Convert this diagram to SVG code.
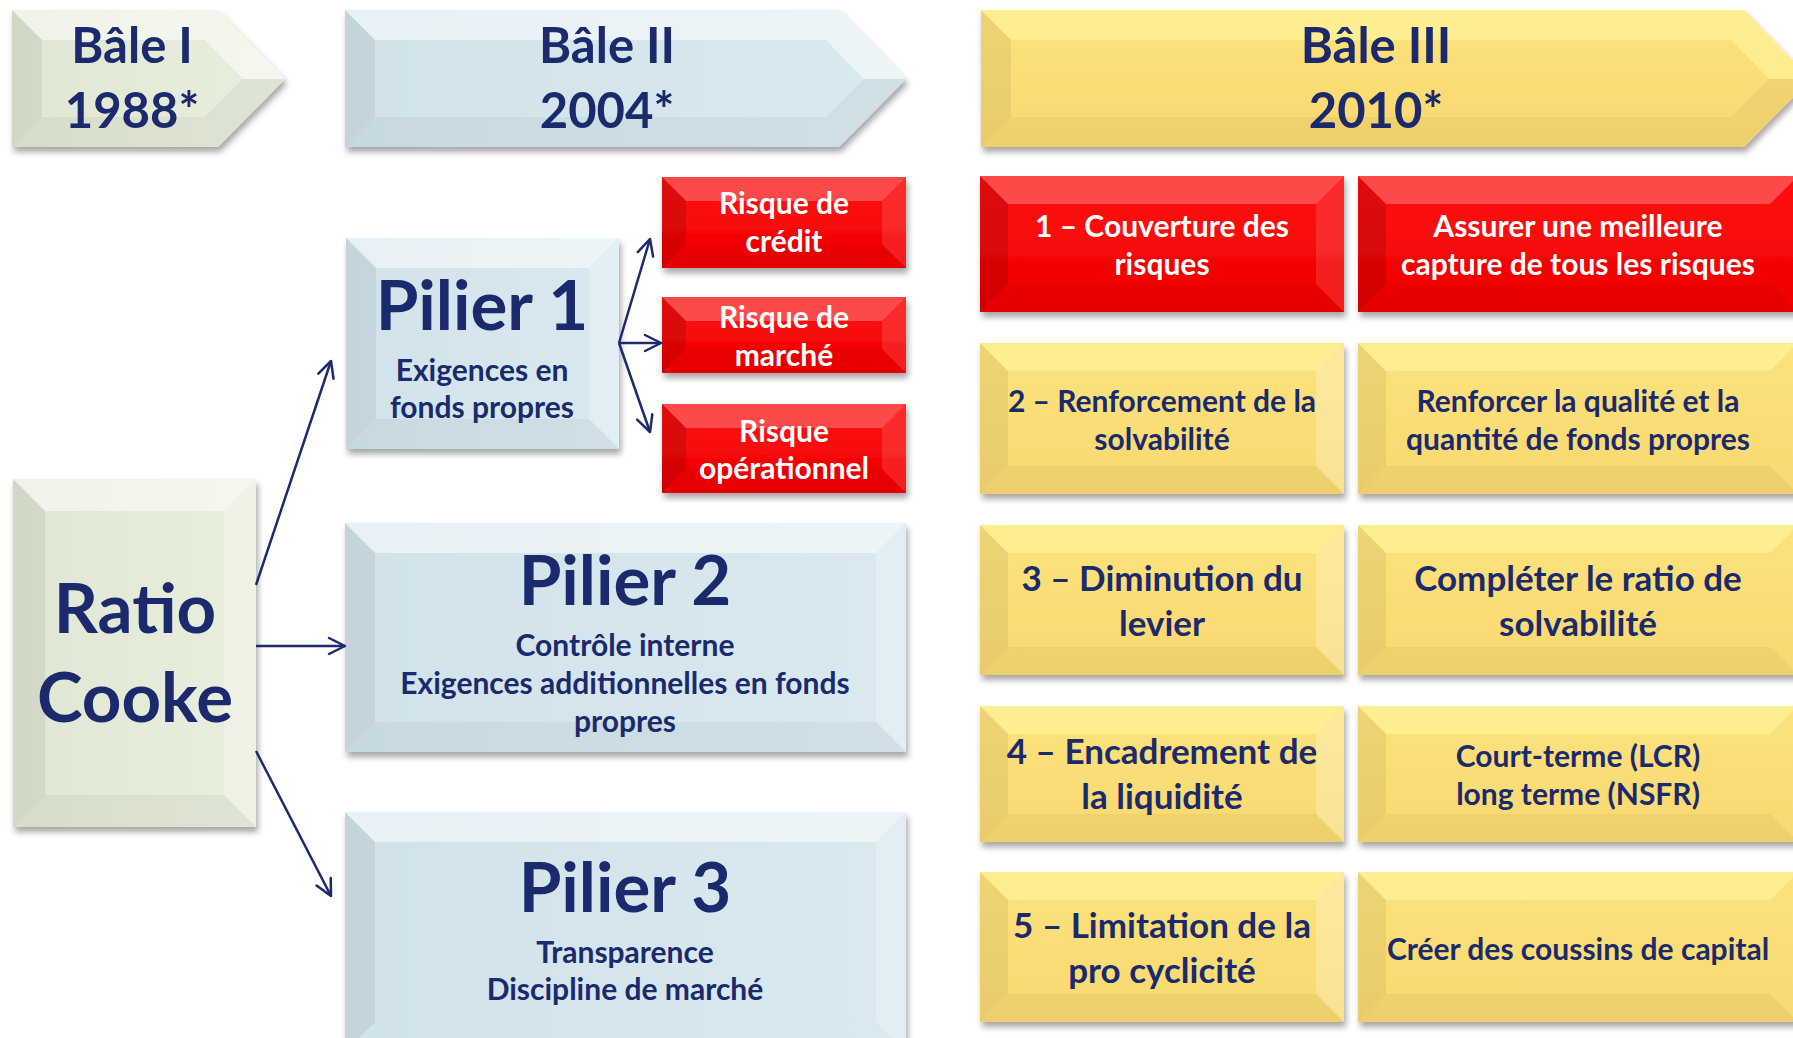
<svg xmlns="http://www.w3.org/2000/svg" width="1793" height="1038" viewBox="0 0 1793 1038">
<defs>
<filter id="sh" x="-10%" y="-10%" width="125%" height="130%">
<feDropShadow dx="2" dy="5" stdDeviation="3" flood-color="#000" flood-opacity="0.35"/>
</filter>
<linearGradient id="gGreen" x1="0" y1="0" x2="1" y2="0"><stop offset="0" stop-color="#DFE6D3"/><stop offset="1" stop-color="#E9EFDD"/></linearGradient>
<linearGradient id="gBlue" x1="0" y1="0" x2="1" y2="0"><stop offset="0" stop-color="#D0E2EA"/><stop offset="1" stop-color="#DAE9F0"/></linearGradient>
<linearGradient id="gRed" x1="0" y1="0" x2="0" y2="1"><stop offset="0" stop-color="#FF1010"/><stop offset="1" stop-color="#F00000"/></linearGradient>
<linearGradient id="gYel" x1="0" y1="0" x2="0" y2="1"><stop offset="0" stop-color="#FCE27C"/><stop offset="1" stop-color="#F9D870"/></linearGradient>
<marker id="ah" viewBox="0 0 20 20" refX="18" refY="10" markerWidth="20" markerHeight="20" markerUnits="userSpaceOnUse" orient="auto">
<path d="M2,2 L18,10 L2,18" fill="none" stroke="#1E2A6E" stroke-width="2.5" stroke-linecap="round" stroke-linejoin="round"/>
</marker>
</defs>
<style>
text{font-family:Lato,"Liberation Sans",sans-serif;font-weight:bold;fill:#1A2A6C;text-anchor:middle}
.w text, text.w{fill:#fff}
.green .base{fill:url(#gGreen)}
.blue .base{fill:url(#gBlue)}
.red .base{fill:url(#gRed)}
.yel .base{fill:url(#gYel)}
.bt{fill:#fff;opacity:.5}
.bl{fill:#000;opacity:.06}
.br{fill:#fff;opacity:.25}
.bb{fill:#000;opacity:.04}
.red .bt{opacity:.25}
.red .bl{opacity:.12}
.red .br{opacity:.12}
.yel .bt{fill:#FFF7A0;opacity:.6}
.yel .bl{opacity:.06}
.t1{font-size:49px}
.t2{font-size:69px}
.s1{font-size:30px}
.s2{font-size:30px}
.s3{font-size:35px}
.conn line{stroke:#1E2A6E;stroke-width:2.5;marker-end:url(#ah)}
</style>

<!-- Bâle I -->
<g id="bale1" class="green">
<g filter="url(#sh)"><polygon class="base" points="12,10 218,10 285,79 218,147 12,147"/></g>
<polygon class="bt" points="12,10 218,10 205,40 42,40"/>
<polygon class="bt" points="218,10 285,79 243,79 205,40"/>
<polygon class="bb" points="285,79 218,147 205,117 243,79"/>
<polygon class="bb" points="218,147 12,147 42,117 205,117"/>
<polygon class="bl" points="12,10 42,40 42,117 12,147"/>
<text class="t1" x="132" y="63">Bâle I</text>
<text class="t1" x="132" y="128">1988*</text>
</g>

<!-- Bâle II -->
<g id="bale2" class="blue">
<g filter="url(#sh)"><polygon class="base" points="345,10 839,10 906,79 839,147 345,147"/></g>
<polygon class="bt" points="345,10 839,10 826,40 375,40"/>
<polygon class="bt" points="839,10 906,79 864,79 826,40"/>
<polygon class="bb" points="906,79 839,147 826,117 864,79"/>
<polygon class="bb" points="839,147 345,147 375,117 826,117"/>
<polygon class="bl" points="345,10 375,40 375,117 345,147"/>
<text class="t1" x="607" y="63">Bâle II</text>
<text class="t1" x="607" y="128">2004*</text>
</g>

<!-- Bâle III -->
<g id="bale3" class="yel">
<g filter="url(#sh)"><polygon class="base" points="981,10 1744,10 1811,79 1744,147 981,147"/></g>
<polygon class="bt" points="981,10 1744,10 1731,40 1011,40"/>
<polygon class="bt" points="1744,10 1811,79 1769,79 1731,40"/>
<polygon class="bb" points="1811,79 1744,147 1731,117 1769,79"/>
<polygon class="bb" points="1744,147 981,147 1011,117 1731,117"/>
<polygon class="bl" points="981,10 1011,40 1011,117 981,147"/>
<text class="t1" x="1376" y="63">Bâle III</text>
<text class="t1" x="1376" y="128">2010*</text>
</g>

<!-- Ratio Cooke -->
<g id="ratio-cooke" class="green">
<rect class="base" x="13" y="479" width="243" height="348" filter="url(#sh)"/>
<polygon class="bt" points="13,479 256,479 224,511 45,511"/>
<polygon class="bl" points="13,479 45,511 45,795 13,827"/>
<polygon class="br" points="256,479 256,827 224,795 224,511"/>
<polygon class="bb" points="13,827 256,827 224,795 45,795"/>
<text class="t2" x="135" y="633">Ratio</text>
<text class="t2" x="135" y="722">Cooke</text>
</g>

<!-- Pilier 1 -->
<g id="pilier1" class="blue">
<rect class="base" x="346" y="238" width="273" height="211" filter="url(#sh)"/>
<polygon class="bt" points="346,238 619,238 589,268 376,268"/>
<polygon class="bl" points="346,238 376,268 376,419 346,449"/>
<polygon class="br" points="619,238 619,449 589,419 589,268"/>
<polygon class="bb" points="346,449 619,449 589,419 376,419"/>
<text class="t2" x="482" y="330">Pilier 1</text>
<text class="s1" x="482" y="381">Exigences en</text>
<text class="s1" x="482" y="418">fonds propres</text>
</g>

<!-- Pilier 2 -->
<g id="pilier2" class="blue">
<rect class="base" x="345" y="523" width="561" height="229" filter="url(#sh)"/>
<polygon class="bt" points="345,523 906,523 876,553 375,553"/>
<polygon class="bl" points="345,523 375,553 375,722 345,752"/>
<polygon class="br" points="906,523 906,752 876,722 876,553"/>
<polygon class="bb" points="345,752 906,752 876,722 375,722"/>
<text class="t2" x="625" y="605">Pilier 2</text>
<text class="s1" x="625" y="656">Contrôle interne</text>
<text class="s1" x="625" y="694">Exigences additionnelles en fonds</text>
<text class="s1" x="625" y="732">propres</text>
</g>

<!-- Pilier 3 -->
<g id="pilier3" class="blue">
<rect class="base" x="345" y="812" width="561" height="240" filter="url(#sh)"/>
<polygon class="bt" points="345,812 906,812 876,842 375,842"/>
<polygon class="bl" points="345,812 375,842 375,1022 345,1052"/>
<polygon class="br" points="906,812 906,1052 876,1022 876,842"/>
<text class="t2" x="625" y="912">Pilier 3</text>
<text class="s1" x="625" y="963">Transparence</text>
<text class="s1" x="625" y="1000">Discipline de marché</text>
</g>

<!-- Risques -->
<g id="risque-credit" class="red w">
<rect class="base" x="662" y="177" width="244" height="91" filter="url(#sh)"/>
<polygon class="bt" points="662,177 906,177 882,201 686,201"/>
<polygon class="bl" points="662,177 686,201 686,244 662,268"/>
<polygon class="br" points="906,177 906,268 882,244 882,201"/>
<polygon class="bb" points="662,268 906,268 882,244 686,244"/>
<text class="s1 w" x="784" y="214">Risque de</text>
<text class="s1 w" x="784" y="252">crédit</text>
</g>
<g id="risque-marche" class="red w">
<rect class="base" x="662" y="297" width="244" height="76" filter="url(#sh)"/>
<polygon class="bt" points="662,297 906,297 882,321 686,321"/>
<polygon class="bl" points="662,297 686,321 686,349 662,373"/>
<polygon class="br" points="906,297 906,373 882,349 882,321"/>
<polygon class="bb" points="662,373 906,373 882,349 686,349"/>
<text class="s1 w" x="784" y="328">Risque de</text>
<text class="s1 w" x="784" y="366">marché</text>
</g>
<g id="risque-operationnel" class="red w">
<rect class="base" x="662" y="404" width="244" height="89" filter="url(#sh)"/>
<polygon class="bt" points="662,404 906,404 882,428 686,428"/>
<polygon class="bl" points="662,404 686,428 686,469 662,493"/>
<polygon class="br" points="906,404 906,493 882,469 882,428"/>
<polygon class="bb" points="662,493 906,493 882,469 686,469"/>
<text class="s1 w" x="784" y="442">Risque</text>
<text class="s1 w" x="784" y="479">opérationnel</text>
</g>

<!-- Bâle III rows -->
<g id="row1-left" class="red w">
<rect class="base" x="980" y="176" width="364" height="136" filter="url(#sh)"/>
<polygon class="bt" points="980,176 1344,176 1316,204 1008,204"/>
<polygon class="bl" points="980,176 1008,204 1008,284 980,312"/>
<polygon class="br" points="1344,176 1344,312 1316,284 1316,204"/>
<polygon class="bb" points="980,312 1344,312 1316,284 1008,284"/>
<text class="s2 w" x="1162" y="237">1 – Couverture des</text>
<text class="s2 w" x="1162" y="275">risques</text>
</g>
<g id="row1-right" class="red w">
<rect class="base" x="1358" y="176" width="440" height="136" filter="url(#sh)"/>
<polygon class="bt" points="1358,176 1798,176 1770,204 1386,204"/>
<polygon class="bl" points="1358,176 1386,204 1386,284 1358,312"/>
<polygon class="bb" points="1358,312 1798,312 1770,284 1386,284"/>
<text class="s2 w" x="1578" y="237">Assurer une meilleure</text>
<text class="s2 w" x="1578" y="275">capture de tous les risques</text>
</g>

<g id="row2-left" class="yel">
<rect class="base" x="980" y="343" width="364" height="151" filter="url(#sh)"/>
<polygon class="bt" points="980,343 1344,343 1316,371 1008,371"/>
<polygon class="bl" points="980,343 1008,371 1008,466 980,494"/>
<polygon class="br" points="1344,343 1344,494 1316,466 1316,371"/>
<polygon class="bb" points="980,494 1344,494 1316,466 1008,466"/>
<text class="s2" x="1162" y="412">2 – Renforcement de la</text>
<text class="s2" x="1162" y="450">solvabilité</text>
</g>
<g id="row2-right" class="yel">
<rect class="base" x="1358" y="343" width="440" height="151" filter="url(#sh)"/>
<polygon class="bt" points="1358,343 1798,343 1770,371 1386,371"/>
<polygon class="bl" points="1358,343 1386,371 1386,466 1358,494"/>
<polygon class="bb" points="1358,494 1798,494 1770,466 1386,466"/>
<text class="s2" x="1578" y="412">Renforcer la qualité et la</text>
<text class="s2" x="1578" y="450">quantité de fonds propres</text>
</g>

<g id="row3-left" class="yel">
<rect class="base" x="980" y="525" width="364" height="150" filter="url(#sh)"/>
<polygon class="bt" points="980,525 1344,525 1316,553 1008,553"/>
<polygon class="bl" points="980,525 1008,553 1008,647 980,675"/>
<polygon class="br" points="1344,525 1344,675 1316,647 1316,553"/>
<polygon class="bb" points="980,675 1344,675 1316,647 1008,647"/>
<text class="s3" x="1162" y="591">3 – Diminution du</text>
<text class="s3" x="1162" y="636">levier</text>
</g>
<g id="row3-right" class="yel">
<rect class="base" x="1358" y="525" width="440" height="150" filter="url(#sh)"/>
<polygon class="bt" points="1358,525 1798,525 1770,553 1386,553"/>
<polygon class="bl" points="1358,525 1386,553 1386,647 1358,675"/>
<polygon class="bb" points="1358,675 1798,675 1770,647 1386,647"/>
<text class="s3" x="1578" y="591">Compléter le ratio de</text>
<text class="s3" x="1578" y="636">solvabilité</text>
</g>

<g id="row4-left" class="yel">
<rect class="base" x="980" y="706" width="364" height="136" filter="url(#sh)"/>
<polygon class="bt" points="980,706 1344,706 1316,734 1008,734"/>
<polygon class="bl" points="980,706 1008,734 1008,814 980,842"/>
<polygon class="br" points="1344,706 1344,842 1316,814 1316,734"/>
<polygon class="bb" points="980,842 1344,842 1316,814 1008,814"/>
<text class="s3" x="1162" y="764">4 – Encadrement de</text>
<text class="s3" x="1162" y="809">la liquidité</text>
</g>
<g id="row4-right" class="yel">
<rect class="base" x="1358" y="706" width="440" height="136" filter="url(#sh)"/>
<polygon class="bt" points="1358,706 1798,706 1770,734 1386,734"/>
<polygon class="bl" points="1358,706 1386,734 1386,814 1358,842"/>
<polygon class="bb" points="1358,842 1798,842 1770,814 1386,814"/>
<text class="s2" x="1578" y="767">Court-terme (LCR)</text>
<text class="s2" x="1578" y="805">long terme (NSFR)</text>
</g>

<g id="row5-left" class="yel">
<rect class="base" x="980" y="872" width="364" height="150" filter="url(#sh)"/>
<polygon class="bt" points="980,872 1344,872 1316,900 1008,900"/>
<polygon class="bl" points="980,872 1008,900 1008,994 980,1022"/>
<polygon class="br" points="1344,872 1344,1022 1316,994 1316,900"/>
<polygon class="bb" points="980,1022 1344,1022 1316,994 1008,994"/>
<text class="s3" x="1162" y="938">5 – Limitation de la</text>
<text class="s3" x="1162" y="983">pro cyclicité</text>
</g>
<g id="row5-right" class="yel">
<rect class="base" x="1358" y="872" width="440" height="150" filter="url(#sh)"/>
<polygon class="bt" points="1358,872 1798,872 1770,900 1386,900"/>
<polygon class="bl" points="1358,872 1386,900 1386,994 1358,1022"/>
<polygon class="bb" points="1358,1022 1798,1022 1770,994 1386,994"/>
<text class="s2" x="1578" y="960">Créer des coussins de capital</text>
</g>

<!-- Connectors -->
<g id="connectors" class="conn">
<line x1="256" y1="585" x2="331" y2="361"/>
<line x1="256" y1="646" x2="345" y2="646"/>
<line x1="256" y1="751" x2="331" y2="896"/>
<line x1="619" y1="343" x2="650" y2="239"/>
<line x1="619" y1="343" x2="661" y2="343"/>
<line x1="619" y1="343" x2="650" y2="432"/>
</g>
</svg>
